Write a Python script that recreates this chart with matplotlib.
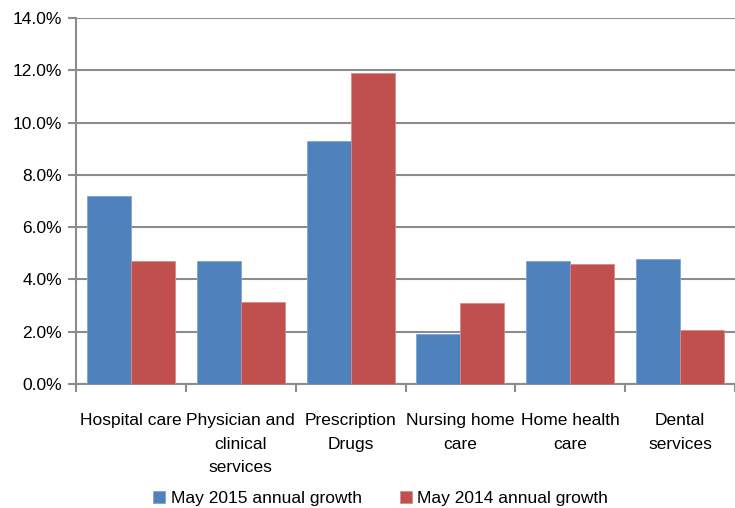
import matplotlib.pyplot as plt
import numpy as np
from matplotlib.ticker import FuncFormatter, FixedLocator

plt.rcParams['font.family'] = ['Liberation Sans', 'DejaVu Sans']

categories = ["Hospital care", "Physician and\nclinical\nservices", "Prescription\nDrugs",
              "Nursing home\ncare", "Home health\ncare", "Dental\nservices"]
growth_2015 = [7.2, 4.7, 9.3, 1.9, 4.7, 4.8]
growth_2014 = [4.7, 3.15, 11.9, 3.1, 4.6, 2.05]

blue = "#4F81BD"
red = "#C0504D"
grid_col = "#8C8C8C"

fig = plt.figure(figsize=(7.35, 5.08), dpi=100)
ax = fig.add_axes([76 / 735, 1 - 384 / 508, 1 - 76 / 735, 366 / 508])

x = np.arange(len(categories))
w = 0.4
ax.bar(x - w / 2, growth_2015, w, color=blue, edgecolor="#7FA3D3", linewidth=0.6,
       label="May 2015 annual growth", zorder=3)
ax.bar(x + w / 2, growth_2014, w, color=red, edgecolor="#D88A88", linewidth=0.6,
       label="May 2014 annual growth", zorder=3)

ax.set_xlim(-0.5, len(categories) - 0.5)
ax.set_ylim(0, 14)
ax.set_yticks(np.arange(0, 15, 2))
ax.yaxis.set_major_formatter(FuncFormatter(lambda v, p: f"{v:.1f}%"))
ax.grid(axis="y", color=grid_col, linewidth=1.5, zorder=0)

ax.set_xticks(x)
ax.set_xticklabels(categories, fontsize=12.5, linespacing=1.72)
ax.tick_params(axis="x", length=0, pad=21)
ax.xaxis.set_minor_locator(FixedLocator(np.arange(-0.5, len(categories), 1)))
ax.tick_params(axis="x", which="minor", length=6, width=1.5, color=grid_col, direction="out")
ax.tick_params(axis="y", length=6, width=1.5, color=grid_col, labelsize=12.5, pad=4)

for s in ["top", "right"]:
    ax.spines[s].set_visible(False)
for s in ["left", "bottom"]:
    ax.spines[s].set_color(grid_col)
    ax.spines[s].set_linewidth(1.5)

fig.legend(loc="lower center", bbox_to_anchor=(0.518, -0.027), ncol=2, frameon=False,
           fontsize=12.5, handlelength=0.7, handleheight=0.7, handletextpad=0.3, columnspacing=2.2)

fig.savefig("out.png", dpi=100)
